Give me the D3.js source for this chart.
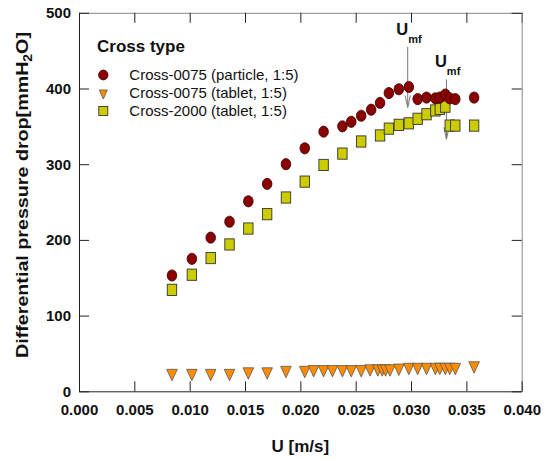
<!DOCTYPE html>
<html>
<head>
<meta charset="utf-8">
<script src="https://cdn.jsdelivr.net/npm/d3@7"></script>
<style>
body { margin: 0; background: #fff; }
svg { display: block; font-family: Arial, "Liberation Sans", sans-serif; }
</style>
</head>
<body>
<svg width="548" height="460"></svg>
<script>
// superficial velocity U [m/s] and pressure drop [mmH2O]
const particleU  = [0.0084, 0.0102, 0.0119, 0.0136, 0.0153, 0.0170, 0.0187, 0.0204, 0.0221, 0.0238, 0.0246, 0.0255, 0.0264, 0.0272, 0.0280, 0.0289, 0.0298, 0.0306, 0.0314, 0.0322, 0.0326, 0.0331, 0.0335, 0.0340, 0.0357];
const particleDP = [153, 175, 203, 224, 251, 274, 300, 321, 343, 350, 356, 364, 372, 381, 394, 399, 402, 386, 388, 387, 388, 392, 387, 386, 388];

const tablet75U  = [0.0084, 0.0102, 0.0119, 0.0136, 0.0153, 0.0170, 0.0187, 0.0204, 0.0212, 0.0221, 0.0229, 0.0238, 0.0246, 0.0255, 0.0263, 0.0270, 0.0274, 0.0277, 0.0281, 0.0289, 0.0298, 0.0306, 0.0314, 0.0322, 0.0326, 0.0331, 0.0335, 0.0340, 0.0357];
const tablet75DP = [24, 24, 24, 24, 26, 26, 28, 28, 29, 29, 29, 29, 29, 29, 30, 30, 30, 30, 30, 31, 32, 32, 32, 32, 32, 32, 32, 32, 34];

const tablet2000U  = [0.0084, 0.0102, 0.0119, 0.0136, 0.0153, 0.0170, 0.0187, 0.0204, 0.0221, 0.0238, 0.0255, 0.0272, 0.0280, 0.0289, 0.0298, 0.0306, 0.0314, 0.0322, 0.0326, 0.0331, 0.0335, 0.0340, 0.0357];
const tablet2000DP = [134, 154, 176, 194, 215, 234, 256, 277, 299, 314, 330, 338, 347, 352, 354, 360, 366, 371, 373, 376, 351, 351, 351];

const seriesNames = ['Cross-0075 (particle, 1:5)', 'Cross-0075 (tablet, 1:5)', 'Cross-2000 (tablet, 1:5)'];
const xTicks = [0, 0.005, 0.010, 0.015, 0.020, 0.025, 0.030, 0.035, 0.040];
const yTicks = [0, 100, 200, 300, 400, 500];

// U_mf arrows: velocity, arrow start / end in mmH2O
const umfU = [0.0297, 0.0332];
const umfFrom = [455, 412];
const umfTo = [375, 333];

const svg = d3.select('svg');
const plotLeft = 79, plotRight = 521.7, plotTop = 12.8, plotBottom = 391.3;

var xs = d3.scaleLinear().domain([0, 0.04]).range([plotLeft, plotRight]);
var ys = d3.scaleLinear().domain([0, 500]).range([plotBottom, plotTop]);

const colors = { circle: '#8b0000', tri: '#ff8c00', square: '#cccc00' };

function tri(w, h) {
    // down-pointing triangle, centroid at 0,0
    return `M${-w/2},${-h/3}L${w/2},${-h/3}L0,${2*h/3}Z`;
}

// frame: top and right in grey, with inward ticks
svg.append('g')
    .attr('transform', `translate(0,${plotTop})`)
    .call(d3.axisTop(xs).tickValues(xTicks).tickSize(-10).tickSizeOuter(0).tickFormat(''))
    .call(g => g.select('.domain').attr('stroke', '#888'))
    .call(g => g.selectAll('.tick line').attr('stroke', '#222'));

svg.append('g')
    .attr('transform', `translate(${plotRight},0)`)
    .call(d3.axisRight(ys).tickValues(yTicks).tickSize(-10).tickSizeOuter(0).tickFormat(''))
    .call(g => g.select('.domain').attr('stroke', '#888'))
    .call(g => g.selectAll('.tick line').attr('stroke', '#222'));

svg.append('g')
    .attr('transform', `translate(0,${plotBottom})`)
    .call(d3.axisBottom(xs).tickValues(xTicks).tickSize(-10).tickSizeOuter(0).tickPadding(13).tickFormat(d3.format('.3f')))
    .call(g => g.select('.domain').attr('stroke', '#222'))
    .call(g => g.selectAll('.tick line').attr('stroke', '#222'))
    .call(g => g.selectAll('text').attr('font-size', 15).attr('font-weight', 'bold').attr('font-family', 'Arial, "Liberation Sans", sans-serif').attr('fill', '#111'));

svg.append('g')
    .attr('transform', `translate(${plotLeft},0)`)
    .call(d3.axisLeft(ys).tickValues(yTicks).tickSize(-10).tickSizeOuter(0).tickPadding(8))
    .call(g => g.select('.domain').attr('stroke', '#222'))
    .call(g => g.selectAll('.tick line').attr('stroke', '#222'))
    .call(g => g.selectAll('text').attr('font-size', 15).attr('font-weight', 'bold').attr('font-family', 'Arial, "Liberation Sans", sans-serif').attr('fill', '#111'));

// axis titles
svg.append('text')
    .attr('x', (plotLeft + plotRight) / 2)
    .attr('y', 452)
    .attr('text-anchor', 'middle')
    .attr('font-size', 17)
    .attr('font-weight', 'bold')
    .attr('fill', '#111')
    .text('U [m/s]');

const ytitle = svg.append('text')
    .attr('transform', 'translate(28,195) rotate(-90)')
    .attr('text-anchor', 'middle')
    .attr('font-size', 17)
    .attr('font-weight', 'bold')
    .attr('fill', '#111')
    .attr('textLength', 326)
    .attr('lengthAdjust', 'spacingAndGlyphs');
ytitle.append('tspan').text('Differential pressure drop[mmH');
ytitle.append('tspan').attr('font-size', 12).attr('dy', 4).text('2');
ytitle.append('tspan').attr('dy', -4).text('O]');

// U_mf arrows
const arrows = svg.append('g').attr('class', 'umf');
umfU.forEach((u, i) => {
    const x = xs(u), y0 = ys(umfFrom[i]), y1 = ys(umfTo[i]);
    arrows.append('line')
        .attr('x1', x).attr('x2', x).attr('y1', y0).attr('y2', y1)
        .attr('stroke', '#777').attr('stroke-width', 1);
    arrows.append('path')
        .attr('d', `M${x - 2.6},${y1 - 12}L${x},${y1}L${x + 2.6},${y1 - 12}`)
        .attr('fill', 'none').attr('stroke', '#777').attr('stroke-width', 1);
    const t = arrows.append('text')
        .attr('x', x - 11.5)
        .attr('y', y0 - 12)
        .attr('fill', '#111');
    t.append('tspan').attr('font-size', 16.5).attr('font-weight', 'bold').text('U');
    t.append('tspan').attr('font-size', 11).attr('font-weight', 'bold').attr('dy', 8).text('mf');
});

// data
const particle = particleU.map((u, i) => ({ u: u, p: particleDP[i] }));
const tab75 = tablet75U.map((u, i) => ({ u: u, p: tablet75DP[i] }));
const tab2000 = tablet2000U.map((u, i) => ({ u: u, p: tablet2000DP[i] }));

svg.append('g').selectAll('rect').data(tab2000).enter().append('rect')
    .attr('x', d => xs(d.u) - 4.7)
    .attr('y', d => ys(d.p) - 5.6)
    .attr('width', 9.4)
    .attr('height', 11.2)
    .attr('fill', colors.square)
    .attr('stroke', '#333')
    .attr('stroke-width', 0.9);

svg.append('g').selectAll('path').data(tab75).enter().append('path')
    .attr('d', tri(10.6, 11.4))
    .attr('transform', d => `translate(${xs(d.u)},${ys(d.p)})`)
    .attr('fill', colors.tri)
    .attr('stroke', '#555')
    .attr('stroke-width', 0.8);

svg.append('g').selectAll('ellipse').data(particle).enter().append('ellipse')
    .attr('cx', d => xs(d.u))
    .attr('cy', d => ys(d.p))
    .attr('rx', 4.8)
    .attr('ry', 5.6)
    .attr('fill', colors.circle)
    .attr('stroke', '#3a0000')
    .attr('stroke-width', 0.8);

// legend
const legend = svg.append('g').attr('class', 'legend');
legend.append('text')
    .attr('x', 97).attr('y', 52)
    .attr('font-size', 17).attr('font-weight', 'bold').attr('fill', '#111')
    .text('Cross type');

const rows = legend.selectAll('.row').data(seriesNames).enter().append('g')
    .attr('class', 'row')
    .attr('transform', (d, i) => `translate(103.3,${75 + i * 18})`);

rows.append('text')
    .attr('x', 26).attr('y', 5.3)
    .attr('font-size', 15).attr('fill', '#111')
    .text(d => d);

rows.filter((d, i) => i === 0).append('ellipse')
    .attr('rx', 4.7).attr('ry', 4.9)
    .attr('fill', colors.circle).attr('stroke', '#3a0000').attr('stroke-width', 0.8);
rows.filter((d, i) => i === 1).append('path')
    .attr('d', tri(8, 9))
    .attr('fill', colors.tri).attr('stroke', '#555').attr('stroke-width', 0.8);
rows.filter((d, i) => i === 2).append('rect')
    .attr('x', -4.5).attr('y', -4.5).attr('width', 9).attr('height', 9)
    .attr('fill', colors.square).attr('stroke', '#333').attr('stroke-width', 0.9);
</script>
</body>
</html>
